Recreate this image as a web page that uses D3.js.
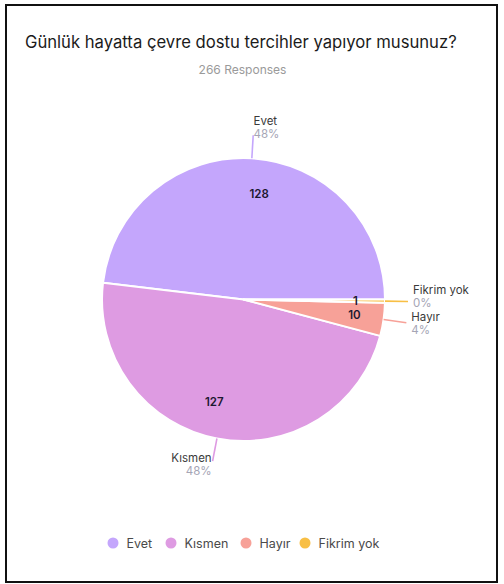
<!DOCTYPE html>
<html>
<head>
<meta charset="utf-8">
<script src="https://cdn.jsdelivr.net/npm/d3@7"></script>
<style>
  html, body { margin: 0; padding: 0; background: #fff; }
  svg { display: block; }
</style>
</head>
<body>
<svg id="chart" width="504" height="584"></svg>
<script>
const title = "Günlük hayatta çevre dostu tercihler yapıyor musunuz?";
const subtitle = "266 Responses";
const categories = ["Evet", "Kısmen", "Hayır", "Fikrim yok"];
const values = [128, 127, 10, 1];
const percentLabels = ["48%", "48%", "4%", "0%"];
const colors = ["#c4a6fc", "#de9be2", "#f7a198", "#f8bf45"];

const svg = d3.select("#chart");
const font = "Inter, 'Open Sans', sans-serif";

// frame
svg.append("rect").attr("x", 6).attr("y", 5).attr("width", 491).attr("height", 577)
  .attr("fill", "#fff").attr("stroke", "#111").attr("stroke-width", 2);

const titleText = svg.append("text").attr("x", 25).attr("y", 48)
  .attr("font-family", font).attr("font-size", 16).attr("fill", "#1b1b1b")
  .text(title);
// fit title to the reference width (25 → 457)
{
  const w = titleText.node().getComputedTextLength();
  titleText.attr("font-size", 16 * 432 / w);
}

const sub = svg.append("text").attr("x", 242.5).attr("y", 74).attr("text-anchor", "middle")
  .attr("font-family", font).attr("font-size", 12).attr("fill", "#9a9a9a")
  .text(subtitle);
{
  const w = sub.node().getComputedTextLength();
  sub.attr("font-size", 12 * 88 / w);
}

const cx = 243.5, cy = 299.5, R = 141.5;
const data = categories.map((c, i) => ({ name: c, value: values[i], pct: percentLabels[i], color: colors[i] }));

const pie = d3.pie().value(d => d.value).sort(null)
  .startAngle(Math.PI / 2).endAngle(Math.PI / 2 - 2 * Math.PI);
const arcs = pie(data);
const arc = d3.arc().innerRadius(0).outerRadius(R);

const g = svg.append("g").attr("transform", `translate(${cx},${cy})`);
g.selectAll("path.slice").data(arcs).enter().append("path")
  .attr("class", "slice")
  .attr("d", arc)
  .attr("fill", d => d.data.color)
  .attr("stroke", "#fff").attr("stroke-width", 2).attr("stroke-linejoin", "round");

const total = d3.sum(values);
// inner value labels
g.selectAll("text.val").data(arcs).enter().append("text")
  .attr("class", "val")
  .each(function(d) {
    const frac = d.data.value / total;
    let a = (d.startAngle + d.endAngle) / 2;
    let r = 112;
    if (frac > 0.25) { a += 5 * Math.PI / 180; r = 107; }
    d3.select(this).attr("x", r * Math.sin(a)).attr("y", -r * Math.cos(a) + 4);
  })
  .attr("text-anchor", "middle")
  .attr("font-family", font).attr("font-size", 11.5).attr("font-weight", 600)
  .attr("fill", "#1c1830")
  .text(d => d.data.value);

// outer labels
const ext = 23;
const labels = arcs.map(d => {
  const a = (d.startAngle + d.endAngle) / 2;
  const s = Math.sin(a), c = Math.cos(a);
  return {
    d, s, c,
    x0: R * s, y0: -R * c,
    x1: (R + ext) * s, y1: -(R + ext) * c,
    nameY: -(R + ext) * c - 4.6 - 5.7 * c
  };
});
// simple collision relaxation per side
["right", "left"].forEach(side => {
  const grp = labels.filter(l => (side === "right") === (l.s >= 0)).sort((a, b) => a.nameY - b.nameY);
  const minGap = 27;
  for (let iter = 0; iter < 10; iter++) {
    for (let i = 1; i < grp.length; i++) {
      const gap = grp[i].nameY - grp[i - 1].nameY;
      if (gap < minGap) {
        const push = (minGap - gap) / 2;
        grp[i].nameY += push; grp[i - 1].nameY -= push;
      }
    }
  }
});
labels.forEach(l => {
  g.append("line").attr("x1", l.x0).attr("y1", l.y0).attr("x2", l.x1).attr("y2", l.y1)
    .attr("stroke", l.d.data.color).attr("stroke-width", 1.6);
  const anchor = l.s >= 0 ? "start" : "end";
  const tx = l.x1 + 5 * l.s;
  g.append("text").attr("x", tx).attr("y", l.nameY).attr("text-anchor", anchor)
    .attr("font-family", font).attr("font-size", 11.5).attr("fill", "#3a3a3a")
    .text(l.d.data.name);
  g.append("text").attr("x", tx).attr("y", l.nameY + 12.5).attr("text-anchor", anchor)
    .attr("font-family", font).attr("font-size", 11.5).attr("fill", "#a5a5b5")
    .text(l.d.data.pct);
});

// legend
const legendX = [113, 171, 246, 305];
const lg = svg.append("g");
data.forEach((d, i) => {
  lg.append("circle").attr("cx", legendX[i]).attr("cy", 543).attr("r", 5.5)
    .attr("fill", d.color);
  lg.append("text").attr("x", legendX[i] + 13.5).attr("y", 547.5)
    .attr("font-family", font).attr("font-size", 12.5).attr("fill", "#4a4a4a")
    .text(d.name);
});
</script>
</body>
</html>
